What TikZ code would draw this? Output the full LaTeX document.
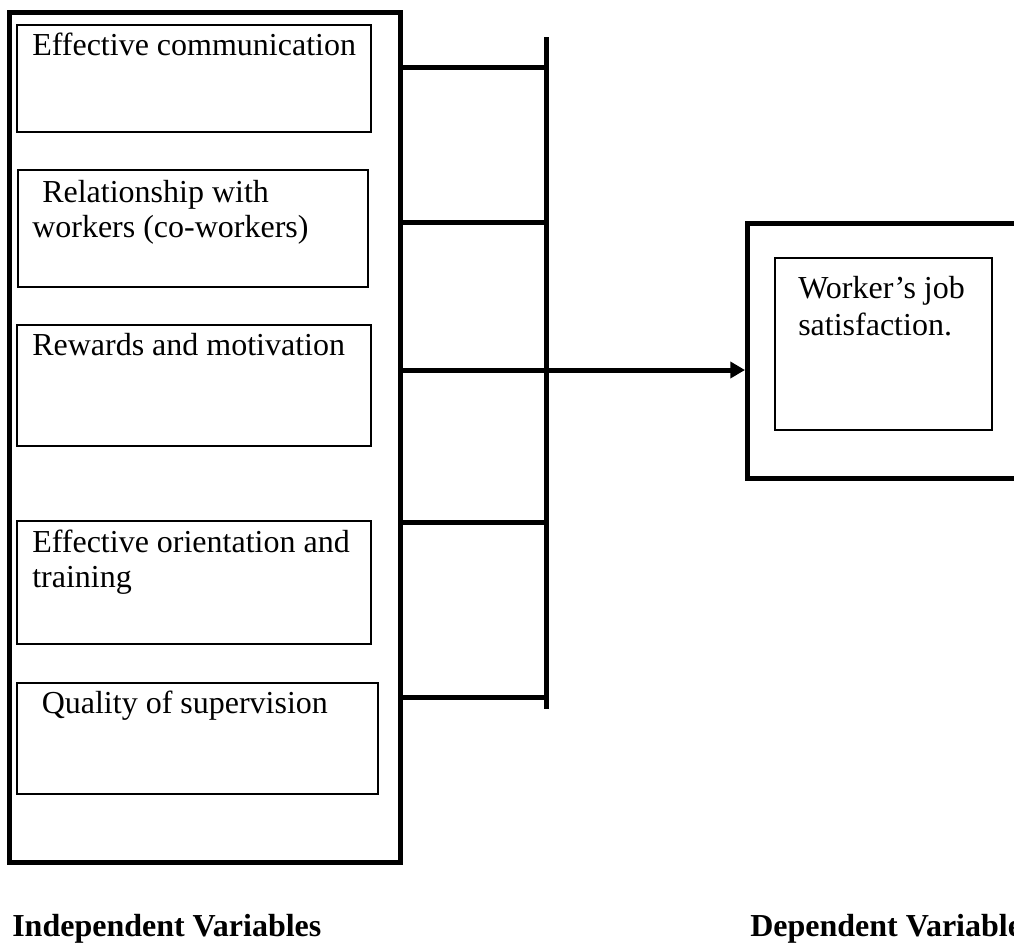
\documentclass[tikz,border=0pt]{standalone}
\usepackage{fontspec}
\setmainfont{Liberation Serif}
\usetikzlibrary{arrows.meta}
\begin{document}
\begin{tikzpicture}[x=0.75pt,y=-0.75pt,
  thickbox/.style={draw, line width=3.75pt, rectangle, inner sep=0pt, outer sep=0pt},
  thinbox/.style={draw, line width=1pt, rectangle, inner sep=0pt, outer sep=0pt},
  lbl/.style={anchor=base west, inner sep=0pt, font=\fontsize{24}{29}\selectfont},
  head/.style={anchor=base west, inner sep=0pt, font=\fontsize{24}{29}\selectfont\bfseries},
  conn/.style={line width=3.75pt},
]
\useasboundingbox (0,0) rectangle (1014,943);
% left outer box
\node[thickbox, minimum width=293.6pt, minimum height=637.5pt] (L) at (205.25,437) {};
% inner boxes
\node[thinbox, minimum width=265.5pt, minimum height=80.25pt] (B1) at (194,78.5) {};
\node[thinbox, minimum width=262.5pt, minimum height=87.75pt] (B2) at (193,228.5) {};
\node[thinbox, minimum width=265.5pt, minimum height=90.75pt] (B3) at (194,385.5) {};
\node[thinbox, minimum width=265.5pt, minimum height=92.25pt] (B4) at (194,582.5) {};
\node[thinbox, minimum width=270.75pt, minimum height=83.25pt] (B5) at (197.5,738.5) {};
% texts
\node[lbl] (t1) at (32,55) {Effective communication};
\node[lbl] (t2a) at (42,202) {Relationship with};
\node[lbl] (t2b) at (32,237) {workers (co-workers)};
\node[lbl] (t3) at (32,355) {Rewards and motivation};
\node[lbl] (t4a) at (32,552) {Effective orientation and};
\node[lbl] (t4b) at (32,587) {training};
\node[lbl] (t5) at (41.5,713) {Quality of supervision};
% right boxes
\node[thickbox, minimum width=212.25pt, minimum height=191.25pt] (R) at (888.5,350.5) {};
\node[thinbox, minimum width=162.75pt, minimum height=129pt] (Ri) at (883.5,344) {};
\node[lbl] (w1) at (798,298) {Worker’s job};
\node[lbl] (w2) at (798,335) {satisfaction.};
% spine
\coordinate (sT) at (546,37);
\coordinate (sB) at (546,709);
\coordinate (s1) at (546,67);
\coordinate (s2) at (546,222);
\coordinate (s3) at (546,370);
\coordinate (s4) at (546,522);
\coordinate (s5) at (546,697);
\draw[conn] (sT) -- (sB);
\draw[conn] (L.east |- s1) -- (s1);
\draw[conn] (L.east |- s2) -- (s2);
\draw[conn] (L.east |- s4) -- (s4);
\draw[conn] (L.east |- s5) -- (s5);
\draw[conn, -{Triangle[length=11pt,width=12pt]}, shorten >=1.5pt] (L.east |- s3) -- (R.west |- s3);
% captions
\node[head] (cap1) at (12,936) {Independent Variables};
\node[head] (cap2) at (750,936) {Dependent Variable};
\end{tikzpicture}
\end{document}
